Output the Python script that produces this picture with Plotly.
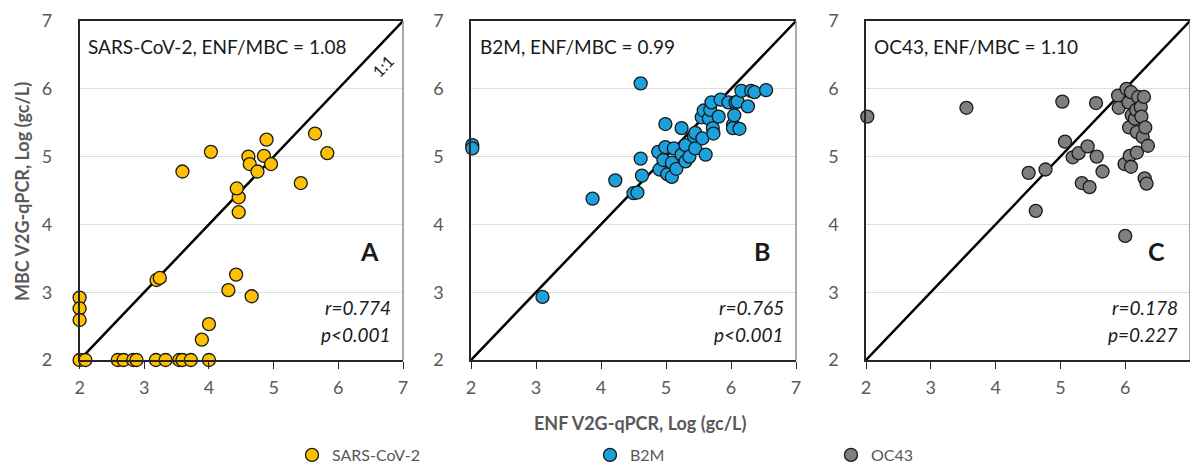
import plotly.graph_objects as go

# ---------------- data ----------------
AXIS_RANGE = [2, 7]
TICK_VALUES = [2, 3, 4, 5, 6, 7]

series_names = ["SARS-CoV-2", "B2M", "OC43"]
panel_titles = ["SARS-CoV-2, ENF/MBC = 1.08", "B2M, ENF/MBC = 0.99", "OC43, ENF/MBC = 1.10"]
panel_letters = ["A", "B", "C"]
r_labels = ["r=0.774", "r=0.765", "r=0.178"]
p_labels = ["p<0.001", "p<0.001", "p=0.227"]

sars_x = [2.0, 2.0, 2.0, 2.0, 2.09, 2.59, 2.68, 2.83, 2.88, 3.18, 3.33, 3.54, 3.59, 3.72, 4.0,
          3.89, 4.0, 4.30, 4.42, 4.66, 3.19, 3.24, 4.46, 4.46, 4.43, 3.59, 4.03, 4.61, 4.63,
          4.75, 4.85, 4.89, 4.96, 5.42, 5.64, 5.83]
sars_y = [2.92, 2.76, 2.59, 2.0, 2.0, 2.0, 2.0, 2.0, 2.0, 2.0, 2.0, 2.0, 2.0, 2.0, 2.0,
          2.30, 2.53, 3.03, 3.26, 2.94, 3.18, 3.21, 4.18, 4.40, 4.53, 4.78, 5.07, 5.00, 4.89,
          4.78, 5.01, 5.25, 4.89, 4.61, 5.34, 5.05]

b2m_x = [2.02, 2.02, 3.10, 3.87, 4.22, 4.50, 4.56, 4.61, 4.63, 4.61, 4.88, 4.90, 4.96, 4.99,
         4.99, 5.02, 5.09, 5.09, 5.12, 5.16, 5.24, 5.24, 5.30, 5.30, 5.36, 5.43, 5.45, 5.45,
         5.55, 5.56, 5.58, 5.61, 5.66, 5.68, 5.70, 5.72, 5.73, 5.81, 5.84, 5.96, 6.03, 6.03,
         6.05, 6.07, 6.10, 6.13, 6.16, 6.26, 6.31, 6.36, 6.54]
b2m_y = [5.17, 5.12, 2.93, 4.38, 4.65, 4.46, 4.47, 4.97, 4.72, 6.08, 5.07, 4.81, 4.95, 5.48,
         5.14, 4.74, 4.91, 4.70, 5.12, 4.82, 5.42, 5.03, 5.17, 4.93, 5.00, 5.30, 5.35, 5.12,
         5.58, 5.27, 5.68, 5.03, 5.56, 5.69, 5.80, 5.42, 5.34, 5.59, 5.84, 5.80, 5.47, 5.42,
         5.61, 5.80, 5.81, 5.41, 5.97, 5.74, 5.97, 5.95, 5.98]

oc43_x = [2.02, 3.55, 4.51, 4.62, 4.77, 5.03, 5.07, 5.19, 5.28, 5.33, 5.42, 5.45, 5.55, 5.56,
          5.65, 5.89, 5.90, 5.99, 6.00, 6.02, 6.05, 6.06, 6.07, 6.09, 6.09, 6.10, 6.15, 6.17,
          6.18, 6.18, 6.20, 6.24, 6.25, 6.27, 6.29, 6.30, 6.31, 6.33, 6.35]
oc43_y = [5.59, 5.72, 4.76, 4.20, 4.81, 5.81, 5.22, 4.99, 5.05, 4.61, 5.15, 4.55, 5.79, 5.00,
          4.78, 5.90, 5.72, 4.89, 3.83, 6.00, 5.80, 5.43, 5.01, 5.95, 4.85, 5.61, 5.56, 5.69,
          5.36, 5.06, 5.88, 5.73, 5.59, 5.29, 5.88, 4.68, 5.43, 4.60, 5.16]

# ---------------- style ----------------
W, H = 1190, 463
FONT = "Lato, Open Sans, sans-serif"
colors = ["#FFC000", "#1BA1DC", "#7F7F7F"]
GRAY = "#595959"

# panel pixel boxes -> paper domains
x_domains = [[79.6 / W, 403 / W], [471 / W, 796 / W], [866 / W, 1.0]]
y_domain = [1 - 360 / H, 1 - 21 / H]

series = [(sars_x, sars_y), (b2m_x, b2m_y), (oc43_x, oc43_y)]
legend_x_px = [292, 590, 831]

fig = go.Figure()
annotations = []
shapes = []
for i in range(3):
    sfx = "" if i == 0 else str(i + 1)
    xa, ya = "x" + sfx, "y" + sfx
    lg = "legend" + sfx
    xs, ys = series[i]
    fig.add_trace(go.Scatter(
        x=AXIS_RANGE, y=AXIS_RANGE, mode="lines", xaxis=xa, yaxis=ya,
        line=dict(color="black", width=2.5), showlegend=False, hoverinfo="skip"))
    fig.add_trace(go.Scatter(
        x=xs, y=ys, mode="markers", name=series_names[i], xaxis=xa, yaxis=ya,
        legend=lg, cliponaxis=False,
        marker=dict(size=13, color=colors[i], line=dict(color="#1a1a1a", width=1.3))))

    fig.layout["xaxis" + sfx] = dict(
        domain=x_domains[i], range=AXIS_RANGE, tickvals=TICK_VALUES, anchor=ya,
        showgrid=False, zeroline=False, showline=True, linecolor="#262626", linewidth=1.5,
        mirror=True, ticks="outside", ticklen=7, tickcolor="#262626", tickwidth=1.3,
        ticklabelstandoff=4,
        tickfont=dict(family=FONT, size=18, color=GRAY))
    fig.layout["yaxis" + sfx] = dict(
        domain=y_domain, range=AXIS_RANGE, tickvals=TICK_VALUES, anchor=xa,
        showgrid=True, gridcolor="#DDDDDD", gridwidth=1, zeroline=False,
        showline=True, linecolor="#262626", linewidth=1.5, ticks="",
        ticklabelstandoff=22,
        tickfont=dict(family=FONT, size=18, color=GRAY))
    # right border (lighter)
    shapes.append(dict(type="line", xref=xa + " domain", yref=ya + " domain",
                       x0=1, x1=1, y0=0, y1=1, line=dict(color="#8C8C8C", width=1.5)))

    annotations.append(dict(text=panel_titles[i], xref=xa, yref=ya, x=2.1, y=6.62,
                            xanchor="left", yanchor="middle", showarrow=False,
                            font=dict(family=FONT, size=19, color="#1a1a1a")))
    annotations.append(dict(text="<b>" + panel_letters[i] + "</b>", xref=xa, yref=ya,
                            x=6.48, y=3.61, xanchor="center", yanchor="middle", showarrow=False,
                            font=dict(family=FONT, size=25, color="#1a1a1a")))
    annotations.append(dict(text="<i>" + r_labels[i] + "</i>", xref=xa, yref=ya,
                            x=6.84, y=2.77, xanchor="right", yanchor="middle", showarrow=False,
                            font=dict(family=FONT, size=19, color="#1a1a1a")))
    annotations.append(dict(text="<i>" + p_labels[i] + "</i>", xref=xa, yref=ya,
                            x=6.84, y=2.37, xanchor="right", yanchor="middle", showarrow=False,
                            font=dict(family=FONT, size=19, color="#1a1a1a")))

    fig.layout[lg] = dict(x=legend_x_px[i] / W, y=1 - 455 / H, xanchor="left",
                          yanchor="middle", orientation="h", bgcolor="rgba(0,0,0,0)",
                          font=dict(family=FONT, size=16, color=GRAY), itemwidth=30)

annotations.append(dict(text="1:1", xref="x", yref="y", x=6.69, y=6.35, textangle=-46,
                        showarrow=False, font=dict(family=FONT, size=16, color="#1a1a1a")))
annotations.append(dict(text="<b>MBC V2G-qPCR, Log (gc/L)</b>", xref="paper", yref="paper",
                        x=22 / W, y=1 - 192 / H, textangle=-90, showarrow=False,
                        xanchor="center", yanchor="middle",
                        font=dict(family=FONT, size=18, color=GRAY)))
annotations.append(dict(text="<b>ENF V2G-qPCR, Log (gc/L)</b>", xref="paper", yref="paper",
                        x=640 / W, y=1 - 423 / H, showarrow=False,
                        xanchor="center", yanchor="middle",
                        font=dict(family=FONT, size=18, color=GRAY)))

fig.update_layout(
    width=W, height=H, margin=dict(l=0, r=0, t=0, b=0, autoexpand=False),
    paper_bgcolor="white", plot_bgcolor="white",
    annotations=annotations, shapes=shapes,
    font=dict(family=FONT),
)

fig.write_html(
    "out.html",
    config={"displayModeBar": False},
    post_script="document.body.style.margin='0px';document.body.style.overflow='hidden';",
)
